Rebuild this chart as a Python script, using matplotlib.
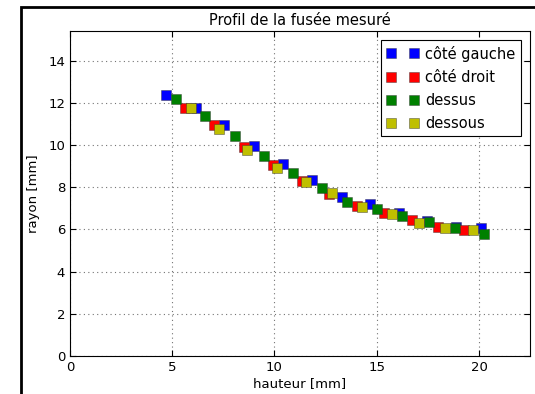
import matplotlib
matplotlib.use("Agg")
import matplotlib.pyplot as plt
from matplotlib.patches import Rectangle

# hauteur [mm], rayon [mm]
gauche_x = [4.69, 6.16, 7.55, 8.99, 10.41, 11.85, 13.28, 14.66, 16.09, 17.45, 18.90, 20.10]
gauche_y = [12.39, 11.76, 10.94, 9.94, 9.12, 8.33, 7.54, 7.18, 6.76, 6.42, 6.12, 6.05]

droit_x = [5.64, 7.06, 8.50, 9.92, 11.36, 12.66, 14.05, 15.36, 16.75, 18.00, 19.28]
droit_y = [11.76, 10.94, 9.91, 9.04, 8.30, 7.67, 7.10, 6.79, 6.44, 6.12, 5.97]

dessus_x = [5.20, 6.62, 8.05, 9.51, 10.90, 12.34, 13.56, 15.03, 16.26, 17.57, 18.84, 20.26]
dessus_y = [12.17, 11.36, 10.42, 9.50, 8.68, 7.94, 7.31, 6.96, 6.64, 6.36, 6.07, 5.79]

dessous_x = [5.92, 7.27, 8.68, 10.10, 11.52, 12.83, 14.30, 15.77, 17.08, 18.33, 19.69]
dessous_y = [11.76, 10.78, 9.77, 8.93, 8.26, 7.74, 7.04, 6.71, 6.28, 6.06, 5.97]

series = [
    (gauche_x, gauche_y, 'b', 'côté gauche'),
    (droit_x, droit_y, 'r', 'côté droit'),
    (dessus_x, dessus_y, 'g', 'dessus'),
    (dessous_x, dessous_y, 'y', 'dessous'),
]

fig = plt.figure(figsize=(5.35, 3.94), dpi=100)
ax = fig.add_axes([0.1308, 0.0964, 0.86, 0.8249])

for x, y, c, lab in series:
    ax.plot(x, y, 's', color=c, markersize=7.5, markeredgewidth=0.5,
            markeredgecolor=(0.2, 0.2, 0.2, 0.6), label=lab)

ax.set_xlim(0, 22.5)
ax.set_ylim(0, 15.4)
ax.set_xticks([0, 5, 10, 15, 20])
ax.set_yticks([0, 2, 4, 6, 8, 10, 12, 14])
ax.tick_params(direction='in', top=True, right=True, labelsize=9.5, length=4)
ax.grid(True, linestyle=(0, (1, 3)), color='0.45', linewidth=0.8)
ax.set_title("Profil de la fusée mesuré", fontsize=10.5, pad=4)
ax.set_xlabel("hauteur [mm]", fontsize=9.5, labelpad=2)
ax.set_ylabel("rayon [mm]", fontsize=9.5, labelpad=6)

leg = ax.legend(loc='upper right', numpoints=2, fontsize=10.5, fancybox=False,
                framealpha=1, edgecolor='k', handlelength=2.2, handletextpad=0.45,
                borderaxespad=0.6, labelspacing=0.55, borderpad=0.4)
leg.get_frame().set_linewidth(0.8)

# black frame of the original figure (only left/top edges visible)
fig.patches.append(Rectangle((21 / 535, -0.5), 2.0, 0.5 + (1 - 7 / 394),
                             transform=fig.transFigure, fill=False,
                             edgecolor='k', linewidth=2.0))

fig.savefig("out.png", dpi=100)
